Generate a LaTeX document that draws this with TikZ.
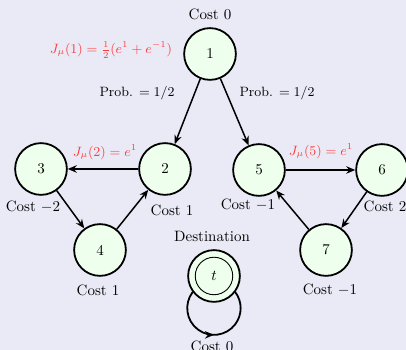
\documentclass[tikz,border=0pt]{standalone}
\usetikzlibrary{arrows.meta,decorations.markings}
\definecolor{bgcol}{RGB}{234,234,247}
\definecolor{nodefill}{RGB}{238,255,238}
\definecolor{jred}{RGB}{255,60,60}
\begin{document}
\begin{tikzpicture}[x=0.6667pt,y=0.6667pt,
  state/.style={circle,draw=black,line width=1.2pt,fill=nodefill,minimum size=34.5pt,inner sep=0pt},
  arr/.style={line width=1pt,-{Stealth[length=6pt,width=5pt]}},
  lbl/.style={inner sep=1pt},
  plbl/.style={inner sep=1pt,font=\small},
  jlbl/.style={text=jred,inner sep=1pt,font=\small}]
  \fill[bgcol] (0,0) rectangle (406,350);
  \useasboundingbox (0,0) rectangle (406,350);

  % states
  \node[state] (n1) at (210,296) {1};
  \node[state] (n2) at (165,181) {2};
  \node[state] (n3) at (41,181) {3};
  \node[state] (n4) at (100,100) {4};
  \node[state] (n5) at (259,180) {5};
  \node[state] (n6) at (382,180) {6};
  \node[state] (n7) at (326,100) {7};
  \node[state] (t) at (214,74) {};
  \node[circle,draw=black,line width=0.6pt,minimum size=25pt,inner sep=0pt] (tin) at (t) {$t$};

  % transitions
  \draw[arr] (n1) -- (n2);
  \draw[arr] (n1) -- (n5);
  \draw[arr] (n2) -- (n3);
  \draw[arr] (n3) -- (n4);
  \draw[arr] (n4) -- (n2);
  \draw[arr] (n5) -- (n6);
  \draw[arr] (n6) -- (n7);
  \draw[arr] (n7) -- (n5);

  % self loop at the destination
  \draw[line width=1.2pt,
    decoration={markings,mark=at position 0.5 with {\arrow{Stealth[length=6pt,width=5pt]}}},
    postaction={decorate}]
    (t.217) arc[start angle=143,end angle=397,radius=17.8pt];

  % labels
  \node[lbl] (c1) at (210,336) {Cost 0};
  \node[jlbl] (j1) at (111,300) {$J_\mu(1)=\frac{1}{2}(e^{1}+e^{-1})$};
  \node[plbl] (p1) at (137,257) {Prob. $=1/2$};
  \node[plbl] (p2) at (277,257) {Prob. $=1/2$};
  \node[jlbl] (j2) at (105,198) {$J_\mu(2)=e^{1}$};
  \node[jlbl] (j5) at (321,199) {$J_\mu(5)=e^{1}$};
  \node[lbl] (c3) at (33,143) {Cost $-2$};
  \node[lbl] (c2) at (172,140) {Cost 1};
  \node[lbl] (c5) at (248,145) {Cost $-1$};
  \node[lbl] (c6) at (385,144) {Cost 2};
  \node[lbl] (c4) at (98,60) {Cost 1};
  \node[lbl] (c7) at (330,60) {Cost $-1$};
  \node[lbl] (dst) at (212,114) {Destination};
  \node[lbl] (c0) at (212,4) {Cost 0};
\end{tikzpicture}
\end{document}
